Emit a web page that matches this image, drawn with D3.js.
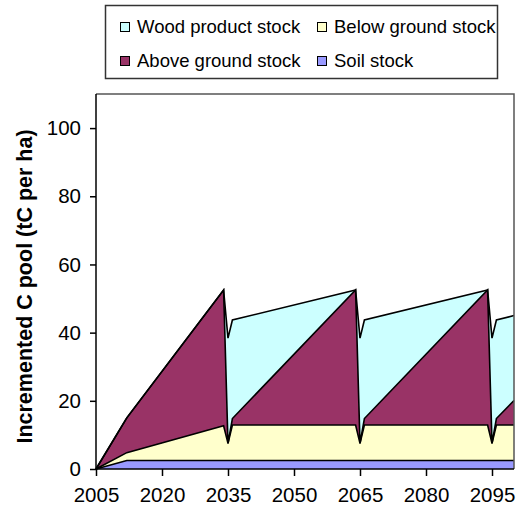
<!DOCTYPE html>
<html>
<head>
<meta charset="utf-8">
<script src="https://cdn.jsdelivr.net/npm/d3@7"></script>
<style>
  body { margin: 0; background: #fff; }
  svg { display: block; font-family: "Liberation Sans", Arial, sans-serif; }
</style>
</head>
<body>
<script>
// incremented C pool, stacked areas (soil at the bottom, wood product on top)

const W = 520
const H = 507

// breakpoints of the series (years)
const years = [2005, 2012, 2034, 2035, 2036, 2064, 2065, 2066, 2094, 2095, 2096, 2100]
// layer amounts in tC per ha (not cumulative)
const soil = [0, 2.5, 2.5, 2.5, 2.5, 2.5, 2.5, 2.5, 2.5, 2.5, 2.5, 2.5]
const below = [0, 2.3, 10.2, 5.0, 10.4, 10.4, 5.0, 10.4, 10.4, 5.0, 10.4, 10.4]
const above = [0, 10.2, 39.8, 0, 1.9, 39.6, 0, 1.9, 39.6, 0, 1.9, 7.2]
const wood = [0, 0, 0, 30.9, 28.9, 0, 30.9, 28.9, 0, 30.9, 28.9, 24.9]

const xTicks = [2005, 2020, 2035, 2050, 2065, 2080, 2095]
const yTicks = [0, 20, 40, 60, 80, 100]

const keys = ['soil', 'below', 'above', 'wood']
const names = {
  wood: 'Wood product stock',
  below: 'Below ground stock',
  above: 'Above ground stock',
  soil: 'Soil stock'
}
const colors = { soil: '#9999ff', below: '#ffffcc', above: '#993366', wood: '#ccffff' }

const rows = years.map((y, i) => ({
  year: y, soil: soil[i], below: below[i], above: above[i], wood: wood[i]
}))
const series = d3.stack().keys(keys)(rows)

const x = d3.scaleLinear().domain([2005, 2100]).range([96, 514])
const y = d3.scaleLinear().domain([0, 110]).range([469, 94])

const svg = d3.select('body').append('svg')
  .attr('width', W)
  .attr('height', H)

// areas
const area = d3.area()
  .x((d) => x(d.data.year))
  .y0((d) => y(d[0]))
  .y1((d) => y(d[1]))
svg.selectAll('.layer')
  .data(series)
  .enter()
  .append('path')
  .attr('class', 'layer')
  .attr('d', area)
  .attr('fill', (d) => colors[d.key])

// black outline along the top of each layer
const topLine = d3.line()
  .x((d) => x(d.data.year))
  .y((d) => y(d[1]))
svg.selectAll('.edge')
  .data(series)
  .enter()
  .append('path')
  .attr('class', 'edge')
  .attr('d', topLine)
  .attr('fill', 'none')
  .attr('stroke', '#000')
  .attr('stroke-width', 1.6)
  .attr('stroke-linejoin', 'miter')

// plot frame (top + right)
svg.append('path')
  .attr('d', `M${x(2005)},${y(110)}H${x(2100)}V${y(0)}`)
  .attr('fill', 'none')
  .attr('stroke', '#555')
  .attr('stroke-width', 1.5)

// axes
const xAxis = svg.append('g')
  .attr('transform', `translate(0,${y(0)})`)
  .call(d3.axisBottom(x).tickValues(xTicks).tickFormat(d3.format('d')).tickSize(7).tickPadding(11))
const yAxis = svg.append('g')
  .attr('transform', `translate(${x(2005)},0)`)
  .call(d3.axisLeft(y).tickValues(yTicks).tickSize(6).tickPadding(9))
for (const g of [xAxis, yAxis]) {
  g.select('.domain').attr('stroke', '#000').attr('stroke-width', 1.5)
  g.selectAll('.tick line').attr('stroke', '#000').attr('stroke-width', 1.5)
  g.selectAll('.tick text')
    .attr('font-family', '"Liberation Sans", Arial, sans-serif')
    .attr('font-size', '20.5px')
    .attr('fill', '#000')
}
xAxis.select('.domain').attr('d', `M${x(2005)},0H${x(2100)}`)
yAxis.select('.domain').attr('d', `M0,${y(0)}V${y(110)}`)

// y axis title
svg.append('text')
  .attr('transform', `translate(32,${(y(0) + y(110)) / 2 + 5}) rotate(-90)`)
  .attr('text-anchor', 'middle')
  .attr('font-size', '21.5px')
  .attr('font-weight', 'bold')
  .text('Incremented C pool (tC per ha)')

// legend
svg.append('rect')
  .attr('x', 105.5)
  .attr('y', 5.5)
  .attr('width', 392)
  .attr('height', 73)
  .attr('fill', '#fff')
  .attr('stroke', '#333')
  .attr('stroke-width', 1.5)
const legendItems = [
  { key: 'wood', col: 0, row: 0 },
  { key: 'below', col: 1, row: 0 },
  { key: 'above', col: 0, row: 1 },
  { key: 'soil', col: 1, row: 1 }
]
const LG = svg.selectAll('.leg')
  .data(legendItems)
  .enter()
  .append('g')
  .attr('class', 'leg')
  .attr('transform', (d) => `translate(${d.col ? 317 : 120},${d.row ? 56 : 22})`)
LG.append('rect')
  .attr('x', 0.5)
  .attr('y', 0.5)
  .attr('width', 9)
  .attr('height', 9)
  .attr('fill', (d) => colors[d.key])
  .attr('stroke', '#000')
  .attr('stroke-width', 1)
LG.append('text')
  .attr('x', 17)
  .attr('y', 11)
  .attr('font-size', '18.5px')
  .text((d) => names[d.key])
</script>
</body>
</html>
